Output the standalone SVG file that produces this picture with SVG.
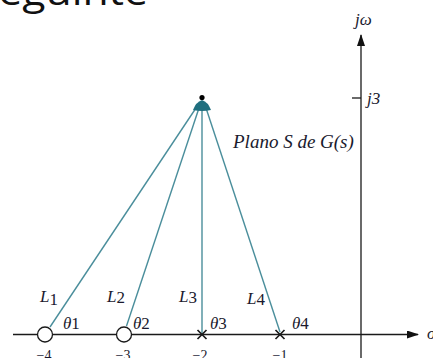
<svg xmlns="http://www.w3.org/2000/svg" width="433" height="358" viewBox="0 0 433 358">
<defs>
<style>
.ax{stroke:#1a1a1a;stroke-width:1.3;fill:none}
.ray{stroke:#4a8e9b;stroke-width:1.4;fill:none}
.lbl{font-family:"Liberation Serif",serif;font-style:italic;font-size:17px;fill:#1a1a2e}
.big{font-size:19px}
.num{font-family:"Liberation Serif",serif;font-size:14px;fill:#1a1a2e}
.up{font-style:normal}
.xm{stroke:#1a1a1a;stroke-width:1.7}
</style>
<marker id="ah" markerWidth="12" markerHeight="8" refX="11" refY="4" orient="auto" markerUnits="userSpaceOnUse">
<path d="M0,0 L12,4 L0,8 Z" fill="#111"/>
</marker>
</defs>
<rect width="433" height="358" fill="#fff"/>
<text x="-22" y="5" font-family="'Open Sans','Liberation Sans',sans-serif" font-size="38" fill="#111" textLength="170" lengthAdjust="spacingAndGlyphs">seguinte</text>
<g id="axes">
<line class="ax" x1="13" y1="334.5" x2="418" y2="334.5" marker-end="url(#ah)"/>
<line class="ax" x1="361" y1="358" x2="361" y2="35" marker-end="url(#ah)"/>
<line class="ax" x1="352" y1="98" x2="361" y2="98"/>
<text class="lbl" x="355" y="25">jω</text>
<text class="lbl" x="367" y="104">j3</text>
<text class="lbl" x="427" y="339">σ</text>
</g>
<g id="connectors">
<line class="ray" x1="196" y1="108" x2="50" y2="327"/>
<line class="ray" x1="199" y1="108" x2="126.5" y2="326"/>
<line class="ray" x1="202" y1="108" x2="202" y2="333"/>
<line class="ray" x1="206" y1="108" x2="280" y2="332"/>
</g>
<g id="apex">
<path d="M193,110 Q196,102 202,100 Q208,102 211,110 Q202,112 193,110 Z" fill="#1f6f7f"/>
<circle cx="202" cy="97.5" r="2.6" fill="#000"/>
<text class="lbl big" x="233" y="148">Plano S de G(s)</text>
</g>
<g id="z1">
<circle cx="45" cy="334.5" r="7.5" fill="#fff" stroke="#1a1a1a" stroke-width="1.3"/>
<text class="lbl" x="40" y="302">L<tspan class="up" dy="3">1</tspan></text>
<text class="lbl" x="63" y="329">θ<tspan class="up">1</tspan></text>
<text class="num" x="44" y="360" text-anchor="middle">−4</text>
</g>
<g id="z2">
<circle cx="124" cy="334.5" r="7.5" fill="#fff" stroke="#1a1a1a" stroke-width="1.3"/>
<text class="lbl" x="107" y="302">L<tspan class="up" dy="1">2</tspan></text>
<text class="lbl" x="133" y="329">θ<tspan class="up">2</tspan></text>
<text class="num" x="123" y="360" text-anchor="middle">−3</text>
</g>
<g id="p3">
<path class="xm" d="M197.5,330 L206.5,339 M206.5,330 L197.5,339"/>
<text class="lbl" x="179" y="302">L<tspan class="up" dy="1">3</tspan></text>
<text class="lbl" x="210" y="329">θ<tspan class="up">3</tspan></text>
<text class="num" x="200" y="360" text-anchor="middle">−2</text>
</g>
<g id="p4">
<path class="xm" d="M275.5,330 L284.5,339 M284.5,330 L275.5,339"/>
<text class="lbl" x="247" y="304">L<tspan class="up" dy="1">4</tspan></text>
<text class="lbl" x="292" y="329">θ<tspan class="up">4</tspan></text>
<text class="num" x="280" y="360" text-anchor="middle">−1</text>
</g>
</svg>
